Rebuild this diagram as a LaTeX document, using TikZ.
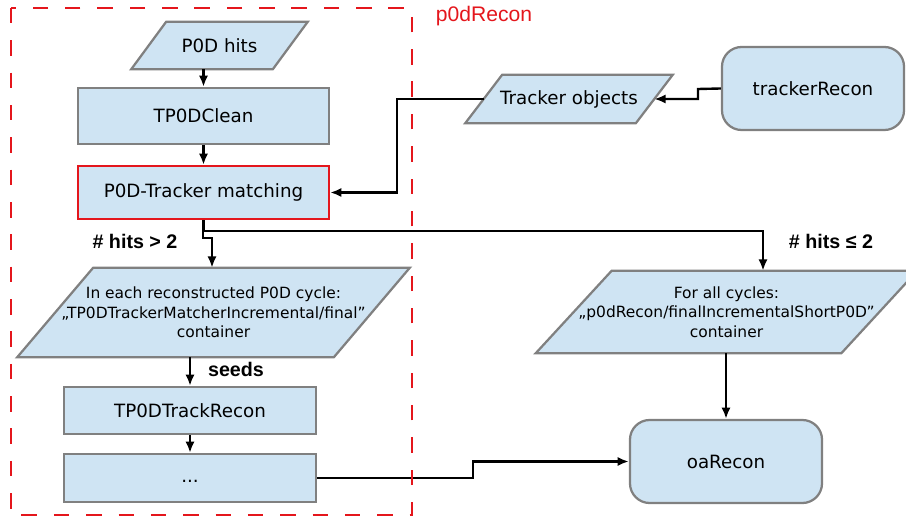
\documentclass[tikz,border=0pt]{standalone}
\usepackage{fontspec}
\setmainfont{DejaVu Sans}
\newfontfamily\lblfont{Liberation Sans}
\usetikzlibrary{arrows.meta,positioning,backgrounds}
\definecolor{boxblue}{RGB}{207,228,243}
\definecolor{boxgray}{RGB}{128,128,128}
\definecolor{podred}{RGB}{228,22,28}
\tikzset{
		>={Latex[length=8pt,width=6.5pt]},
		proc/.style={draw=boxgray,fill=boxblue,line width=1.6pt,inner sep=0pt,
			font=\fontsize{13}{15}\selectfont},
		data/.style={inner sep=0pt,align=center,font=\fontsize{13}{15}\selectfont},
		small/.style={font=\fontsize{11}{14}\selectfont},
		term/.style={proc,rounded corners=14pt},
		lbl/.style={font=\lblfont\bfseries\fontsize{14}{17}\selectfont},
		flow/.style={line width=1.7pt}
	}
% slanted data box behind a node: #1 node, #2 half of the slant
\newcommand\slantbox[2]{%
	\begin{scope}[on background layer]
		\filldraw[draw=boxgray,fill=boxblue,line width=1.6pt]
			([xshift=-#2]#1.south west) -- ([xshift=-#2]#1.south east)
			-- ([xshift=#2]#1.north east) -- ([xshift=#2]#1.north west) -- cycle;
	\end{scope}}

\begin{document}
\begin{tikzpicture}[x=0.025cm,y=-0.025cm]
          \useasboundingbox (0,0) rectangle (906,517);

          % p0dRecon side
          \node[data,minimum width=3.525cm,minimum height=1.175cm] (hits) at (219.5,45.5) {P0D hits};
          \slantbox{hits}{0.4375cm}
          \node[proc,minimum width=6.275cm,minimum height=1.4cm] (clean) at (203.5,116) {TP0DClean};
          \node[proc,draw=podred,minimum width=6.275cm,minimum height=1.325cm] (match) at (203.5,192.5) {P0D-Tracker matching};
          \node[data,small,minimum width=7.9cm,minimum height=2.225cm] (cycL) at (213.5,312.5)
               {In each reconstructed P0D cycle:\\„TP0DTrackerMatcherIncremental/final”\\container};
          \slantbox{cycL}{0.95cm}
          \node[proc,minimum width=6.3cm,minimum height=1.175cm] (track) at (190,410.5) {TP0DTrackRecon};
          \node[proc,minimum width=6.3cm,minimum height=1.2cm,text height=7pt,text depth=0pt] (dots) at (190,478) {...};

          % tracker side
          \node[term,minimum width=4.55cm,minimum height=2.075cm] (trRecon) at (813,88.5) {trackerRecon};
          \node[data,minimum width=4.25cm,minimum height=1.2cm] (trObj) at (569,99) {Tracker objects};
          \slantbox{trObj}{0.4625cm}
          \node[data,small,minimum width=7.625cm,minimum height=2.05cm] (cycR) at (726.5,312)
               {For all cycles:\\„p0dRecon/finalIncrementalShortP0D”\\container};
          \slantbox{cycR}{0.95cm}
          \node[term,minimum width=4.8cm,minimum height=2.075cm] (oa) at (726,461.5) {oaRecon};

          \coordinate (split) at (203,231);
          \coordinate (ljog) at (212,238);
          \coordinate (rdrop) at (763,231);
          \coordinate (bendA) at (397,99);
          \coordinate (bendB) at (698,89);
          \coordinate (jog) at (473,478);

          \draw[flow,->] (clean.north |- hits.south) -- (clean.north);
          \draw[flow,->] (clean.south) -- (match.north);
          \draw[flow,->] (trRecon.west) -- (bendB) |- (trObj.east);
          \draw[flow,->] (trObj.west) -- (bendA) |- (match.east);
          \draw[flow,->] (match.south) |- (rdrop) -- (rdrop |- cycR.north);
          \draw[flow,->] (split) |- (ljog) -- (ljog |- cycL.north);
          \draw[flow,->] (cycL.south -| track.north) -- (track.north);
          \draw[flow,->] (track.south) -- (dots.north);
          \draw[flow,->] (cycR.south -| oa.north) -- (oa.north);
          \draw[flow,->] (dots.east) -- (jog) |- (oa.west);

          \node[lbl] (gtTwo) at (135,241) {\# hits > 2};
          \node[lbl] (leTwo) at (831,241) {\# hits ≤ 2};
          \node[lbl] (seeds) at (236,369) {seeds};

          \draw[podred,line width=2pt,dash pattern=on 11pt off 12pt] (11,8) rectangle (412,515);
          \node[font=\lblfont\fontsize{15}{17}\selectfont,podred,anchor=west] (podName) at (431,16) {p0dRecon};
          \end{tikzpicture}
\end{document}
